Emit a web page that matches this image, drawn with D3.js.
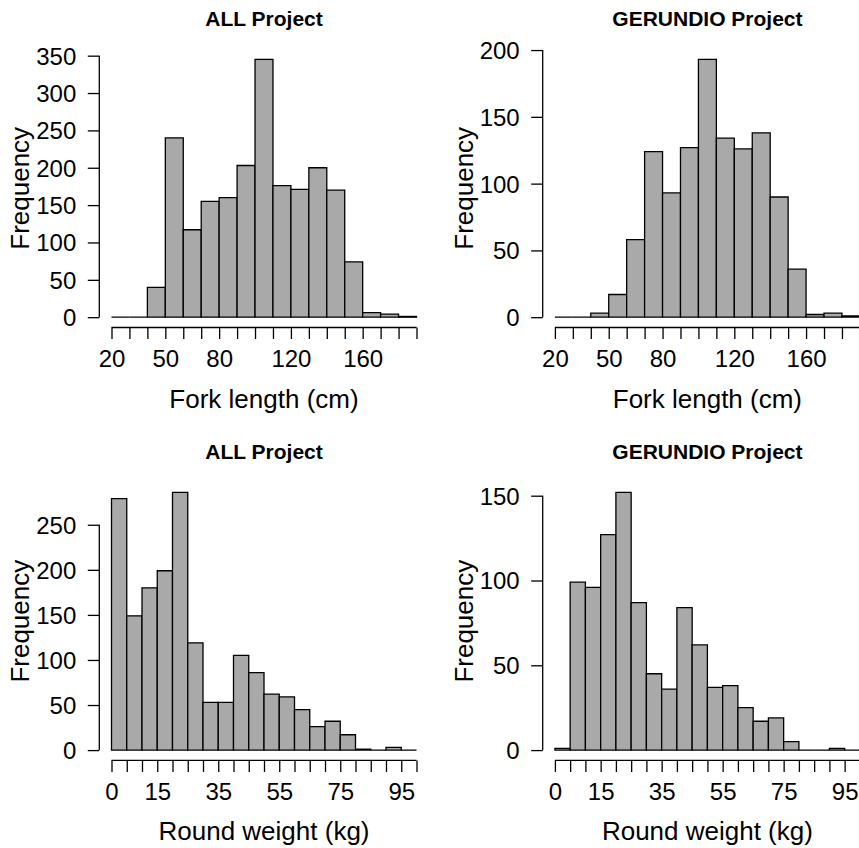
<!DOCTYPE html>
<html>
<head>
<meta charset="utf-8">
<script src="https://cdn.jsdelivr.net/npm/d3@7"></script>
<style>
  html, body { margin: 0; padding: 0; background: #fff; }
  svg { display: block; }
</style>
</head>
<body>
<svg id="chart" width="859" height="848"></svg>
<script>
// Fork length histograms: 10 cm bins
const lengthBreaks = [20, 30, 40, 50, 60, 70, 80, 90, 100, 110, 120, 130, 140, 150, 160, 170, 180, 190];
const lengthTickLabels = [20, 50, 80, 120, 160];
const lengthAll = [0, 0, 40, 240, 117, 155, 160, 203, 345, 176, 171, 200, 170, 74, 6, 4, 1];
const lengthGerundio = [0, 0, 3, 17, 58, 124, 93, 127, 193, 134, 126, 138, 90, 36, 2, 3, 1];

// Round weight histograms: 5 kg bins
const weightBreaks = [0, 5, 10, 15, 20, 25, 30, 35, 40, 45, 50, 55, 60, 65, 70, 75, 80, 85, 90, 95, 100];
const weightTickLabels = [0, 15, 35, 55, 75, 95];
const weightAll = [279, 149, 180, 199, 286, 119, 53, 53, 105, 86, 62, 59, 45, 26, 32, 17, 1, 0, 3, 0];
const weightGerundio = [1, 99, 96, 127, 152, 87, 45, 36, 84, 62, 37, 38, 25, 17, 19, 5, 0, 0, 1, 0];

// Frequency axis ticks per panel
const yTicksLengthAll = [0, 50, 100, 150, 200, 250, 300, 350];
const yTicksLengthGerundio = [0, 50, 100, 150, 200];
const yTicksWeightAll = [0, 50, 100, 150, 200, 250];
const yTicksWeightGerundio = [0, 50, 100, 150];

const panels = [
  { title: "ALL Project", xlab: "Fork length (cm)", breaks: lengthBreaks, counts: lengthAll,
    xLabels: lengthTickLabels, yTicks: yTicksLengthAll, col: 0, row: 0 },
  { title: "GERUNDIO Project", xlab: "Fork length (cm)", breaks: lengthBreaks, counts: lengthGerundio,
    xLabels: lengthTickLabels, yTicks: yTicksLengthGerundio, col: 1, row: 0 },
  { title: "ALL Project", xlab: "Round weight (kg)", breaks: weightBreaks, counts: weightAll,
    xLabels: weightTickLabels, yTicks: yTicksWeightAll, col: 0, row: 1 },
  { title: "GERUNDIO Project", xlab: "Round weight (kg)", breaks: weightBreaks, counts: weightGerundio,
    xLabels: weightTickLabels, yTicks: yTicksWeightGerundio, col: 1, row: 1 }
];

// Plot-region geometry (R-style: data range padded by 4% on each side)
const colLeft = [99.3, 542.7];
const rowTop = [49.1, 482];
const plotW = 329.4;
const plotH = 278.4;
const tickLen = 11.5;
const font = "'Liberation Sans', Arial, Helvetica, sans-serif";
const barFill = "#A9A9A9";

const svg = d3.select("#chart");
svg.append("rect").attr("width", 859).attr("height", 848).attr("fill", "#fff");

panels.forEach(p => {
  const left = colLeft[p.col];
  const top = rowTop[p.row];
  const bottom = top + plotH;
  const right = left + plotW;

  const b0 = p.breaks[0], b1 = p.breaks[p.breaks.length - 1];
  const xPad = 0.04 * (b1 - b0);
  const x = d3.scaleLinear().domain([b0 - xPad, b1 + xPad]).range([left, right]);

  const yMax = d3.max(p.counts);
  const yPad = 0.04 * yMax;
  const y = d3.scaleLinear().domain([-yPad, yMax + yPad]).range([bottom, top]);

  const g = svg.append("g");

  // Bars (paths so that empty bins still show as a flat line)
  g.selectAll("path.bar")
    .data(p.counts)
    .join("path")
    .attr("class", "bar")
    .attr("d", (c, i) => {
      const xa = x(p.breaks[i]), xb = x(p.breaks[i + 1]);
      const ya = y(0), yb = y(c);
      return `M${xa},${ya}H${xb}V${yb}H${xa}Z`;
    })
    .attr("fill", barFill)
    .attr("stroke", "#000")
    .attr("stroke-width", 1.3)
    .attr("stroke-linejoin", "miter");

  // Bottom axis: ticks at every break, labels at selected values
  const xAxis = d3.axisBottom(x)
    .tickValues(p.breaks)
    .tickSize(tickLen)
    .tickSizeOuter(0)
    .tickPadding(11)
    .tickFormat(v => p.xLabels.includes(v) ? String(v) : "");
  const gx = g.append("g").attr("transform", `translate(0,${bottom})`).call(xAxis);
  gx.select(".domain").remove();
  gx.append("line")
    .attr("x1", x(b0)).attr("x2", x(b1))
    .attr("stroke", "#000").attr("stroke-width", 1.3);
  gx.selectAll(".tick line").attr("stroke", "#000").attr("stroke-width", 1.3);
  gx.selectAll(".tick text")
    .attr("fill", "#000")
    .attr("font-family", font)
    .attr("font-size", 24);

  // Left axis
  const yAxis = d3.axisLeft(y)
    .tickValues(p.yTicks)
    .tickSize(tickLen)
    .tickSizeOuter(0)
    .tickPadding(11.5)
    .tickFormat(d3.format("d"));
  const gy = g.append("g").attr("transform", `translate(${left},0)`).call(yAxis);
  gy.select(".domain").remove();
  gy.append("line")
    .attr("y1", y(p.yTicks[0])).attr("y2", y(p.yTicks[p.yTicks.length - 1]))
    .attr("stroke", "#000").attr("stroke-width", 1.3);
  gy.selectAll(".tick line").attr("stroke", "#000").attr("stroke-width", 1.3);
  gy.selectAll(".tick text")
    .attr("fill", "#000")
    .attr("font-family", font)
    .attr("font-size", 24)
    .attr("dy", "0.35em");

  // Title
  g.append("text")
    .attr("x", (left + right) / 2)
    .attr("y", top - 23.5)
    .attr("text-anchor", "middle")
    .attr("font-family", font)
    .attr("font-weight", "bold")
    .attr("font-size", 21)
    .attr("fill", "#000")
    .text(p.title);

  // X axis title
  g.append("text")
    .attr("x", (left + right) / 2)
    .attr("y", bottom + 80)
    .attr("text-anchor", "middle")
    .attr("font-family", font)
    .attr("font-size", 26)
    .attr("fill", "#000")
    .text(p.xlab);

  // Y axis title
  g.append("text")
    .attr("transform", `translate(${left - 70},${(top + bottom) / 2}) rotate(-90)`)
    .attr("text-anchor", "middle")
    .attr("font-family", font)
    .attr("font-size", 26)
    .attr("fill", "#000")
    .text("Frequency");
});
</script>
</body>
</html>
